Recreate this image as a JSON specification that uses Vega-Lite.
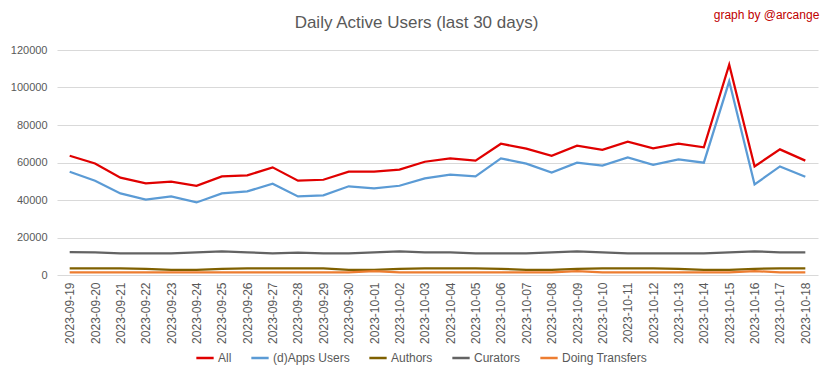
{
  "$schema": "https://vega.github.io/schema/vega-lite/v6.json",
  "width": 761,
  "height": 225,
  "autosize": {"type": "none"},
  "padding": {"left": 57, "top": 50, "right": 15, "bottom": 104},
  "background": "white",
  "title": {
    "text": "Daily Active Users (last 30 days)",
    "anchor": "middle",
    "frame": "group",
    "dx": -21,
    "dy": 39,
    "offset": 16,
    "fontSize": 17,
    "font": "Liberation Sans",
    "fontWeight": "normal",
    "color": "#595959"
  },
  "config": {
    "view": {"stroke": null},
    "font": "Liberation Sans"
  },
  "datasets": {
    "credit": [{"date": "2023-10-18", "value": 138500, "label": "graph by @arcange"}]
  },
  "data": {"values": [
    {"date":"2023-09-19","series":"All","value":63600},
    {"date":"2023-09-20","series":"All","value":59500},
    {"date":"2023-09-21","series":"All","value":51900},
    {"date":"2023-09-22","series":"All","value":48900},
    {"date":"2023-09-23","series":"All","value":49800},
    {"date":"2023-09-24","series":"All","value":47600},
    {"date":"2023-09-25","series":"All","value":52600},
    {"date":"2023-09-26","series":"All","value":53100},
    {"date":"2023-09-27","series":"All","value":57400},
    {"date":"2023-09-28","series":"All","value":50300},
    {"date":"2023-09-29","series":"All","value":50800},
    {"date":"2023-09-30","series":"All","value":55100},
    {"date":"2023-10-01","series":"All","value":55100},
    {"date":"2023-10-02","series":"All","value":56200},
    {"date":"2023-10-03","series":"All","value":60400},
    {"date":"2023-10-04","series":"All","value":62200},
    {"date":"2023-10-05","series":"All","value":61000},
    {"date":"2023-10-06","series":"All","value":70000},
    {"date":"2023-10-07","series":"All","value":67400},
    {"date":"2023-10-08","series":"All","value":63600},
    {"date":"2023-10-09","series":"All","value":69000},
    {"date":"2023-10-10","series":"All","value":66800},
    {"date":"2023-10-11","series":"All","value":71100},
    {"date":"2023-10-12","series":"All","value":67500},
    {"date":"2023-10-13","series":"All","value":70000},
    {"date":"2023-10-14","series":"All","value":68100},
    {"date":"2023-10-15","series":"All","value":112200},
    {"date":"2023-10-16","series":"All","value":57900},
    {"date":"2023-10-17","series":"All","value":67000},
    {"date":"2023-10-18","series":"All","value":61000},
    {"date":"2023-09-19","series":"(d)Apps Users","value":55100},
    {"date":"2023-09-20","series":"(d)Apps Users","value":50300},
    {"date":"2023-09-21","series":"(d)Apps Users","value":43500},
    {"date":"2023-09-22","series":"(d)Apps Users","value":40200},
    {"date":"2023-09-23","series":"(d)Apps Users","value":41900},
    {"date":"2023-09-24","series":"(d)Apps Users","value":38700},
    {"date":"2023-09-25","series":"(d)Apps Users","value":43500},
    {"date":"2023-09-26","series":"(d)Apps Users","value":44600},
    {"date":"2023-09-27","series":"(d)Apps Users","value":48700},
    {"date":"2023-09-28","series":"(d)Apps Users","value":41900},
    {"date":"2023-09-29","series":"(d)Apps Users","value":42500},
    {"date":"2023-09-30","series":"(d)Apps Users","value":47300},
    {"date":"2023-10-01","series":"(d)Apps Users","value":46200},
    {"date":"2023-10-02","series":"(d)Apps Users","value":47600},
    {"date":"2023-10-03","series":"(d)Apps Users","value":51500},
    {"date":"2023-10-04","series":"(d)Apps Users","value":53500},
    {"date":"2023-10-05","series":"(d)Apps Users","value":52600},
    {"date":"2023-10-06","series":"(d)Apps Users","value":62200},
    {"date":"2023-10-07","series":"(d)Apps Users","value":59400},
    {"date":"2023-10-08","series":"(d)Apps Users","value":54700},
    {"date":"2023-10-09","series":"(d)Apps Users","value":59900},
    {"date":"2023-10-10","series":"(d)Apps Users","value":58300},
    {"date":"2023-10-11","series":"(d)Apps Users","value":62700},
    {"date":"2023-10-12","series":"(d)Apps Users","value":58800},
    {"date":"2023-10-13","series":"(d)Apps Users","value":61700},
    {"date":"2023-10-14","series":"(d)Apps Users","value":59900},
    {"date":"2023-10-15","series":"(d)Apps Users","value":103300},
    {"date":"2023-10-16","series":"(d)Apps Users","value":48300},
    {"date":"2023-10-17","series":"(d)Apps Users","value":57900},
    {"date":"2023-10-18","series":"(d)Apps Users","value":52400},
    {"date":"2023-09-19","series":"Authors","value":3500},
    {"date":"2023-09-20","series":"Authors","value":3500},
    {"date":"2023-09-21","series":"Authors","value":3500},
    {"date":"2023-09-22","series":"Authors","value":3300},
    {"date":"2023-09-23","series":"Authors","value":2800},
    {"date":"2023-09-24","series":"Authors","value":2800},
    {"date":"2023-09-25","series":"Authors","value":3300},
    {"date":"2023-09-26","series":"Authors","value":3500},
    {"date":"2023-09-27","series":"Authors","value":3500},
    {"date":"2023-09-28","series":"Authors","value":3500},
    {"date":"2023-09-29","series":"Authors","value":3500},
    {"date":"2023-09-30","series":"Authors","value":2800},
    {"date":"2023-10-01","series":"Authors","value":2800},
    {"date":"2023-10-02","series":"Authors","value":3300},
    {"date":"2023-10-03","series":"Authors","value":3500},
    {"date":"2023-10-04","series":"Authors","value":3500},
    {"date":"2023-10-05","series":"Authors","value":3500},
    {"date":"2023-10-06","series":"Authors","value":3300},
    {"date":"2023-10-07","series":"Authors","value":2800},
    {"date":"2023-10-08","series":"Authors","value":2800},
    {"date":"2023-10-09","series":"Authors","value":3300},
    {"date":"2023-10-10","series":"Authors","value":3500},
    {"date":"2023-10-11","series":"Authors","value":3500},
    {"date":"2023-10-12","series":"Authors","value":3500},
    {"date":"2023-10-13","series":"Authors","value":3300},
    {"date":"2023-10-14","series":"Authors","value":2800},
    {"date":"2023-10-15","series":"Authors","value":2800},
    {"date":"2023-10-16","series":"Authors","value":3300},
    {"date":"2023-10-17","series":"Authors","value":3500},
    {"date":"2023-10-18","series":"Authors","value":3500},
    {"date":"2023-09-19","series":"Curators","value":12200},
    {"date":"2023-09-20","series":"Curators","value":12100},
    {"date":"2023-09-21","series":"Curators","value":11600},
    {"date":"2023-09-22","series":"Curators","value":11600},
    {"date":"2023-09-23","series":"Curators","value":11600},
    {"date":"2023-09-24","series":"Curators","value":12100},
    {"date":"2023-09-25","series":"Curators","value":12600},
    {"date":"2023-09-26","series":"Curators","value":12100},
    {"date":"2023-09-27","series":"Curators","value":11600},
    {"date":"2023-09-28","series":"Curators","value":11900},
    {"date":"2023-09-29","series":"Curators","value":11600},
    {"date":"2023-09-30","series":"Curators","value":11600},
    {"date":"2023-10-01","series":"Curators","value":12100},
    {"date":"2023-10-02","series":"Curators","value":12600},
    {"date":"2023-10-03","series":"Curators","value":12100},
    {"date":"2023-10-04","series":"Curators","value":12100},
    {"date":"2023-10-05","series":"Curators","value":11600},
    {"date":"2023-10-06","series":"Curators","value":11600},
    {"date":"2023-10-07","series":"Curators","value":11600},
    {"date":"2023-10-08","series":"Curators","value":12100},
    {"date":"2023-10-09","series":"Curators","value":12600},
    {"date":"2023-10-10","series":"Curators","value":12100},
    {"date":"2023-10-11","series":"Curators","value":11600},
    {"date":"2023-10-12","series":"Curators","value":11600},
    {"date":"2023-10-13","series":"Curators","value":11600},
    {"date":"2023-10-14","series":"Curators","value":11600},
    {"date":"2023-10-15","series":"Curators","value":12100},
    {"date":"2023-10-16","series":"Curators","value":12600},
    {"date":"2023-10-17","series":"Curators","value":12100},
    {"date":"2023-10-18","series":"Curators","value":12100},
    {"date":"2023-09-19","series":"Doing Transfers","value":1400},
    {"date":"2023-09-20","series":"Doing Transfers","value":1400},
    {"date":"2023-09-21","series":"Doing Transfers","value":1400},
    {"date":"2023-09-22","series":"Doing Transfers","value":1400},
    {"date":"2023-09-23","series":"Doing Transfers","value":1400},
    {"date":"2023-09-24","series":"Doing Transfers","value":1400},
    {"date":"2023-09-25","series":"Doing Transfers","value":1400},
    {"date":"2023-09-26","series":"Doing Transfers","value":1400},
    {"date":"2023-09-27","series":"Doing Transfers","value":1400},
    {"date":"2023-09-28","series":"Doing Transfers","value":1400},
    {"date":"2023-09-29","series":"Doing Transfers","value":1400},
    {"date":"2023-09-30","series":"Doing Transfers","value":1400},
    {"date":"2023-10-01","series":"Doing Transfers","value":2000},
    {"date":"2023-10-02","series":"Doing Transfers","value":1400},
    {"date":"2023-10-03","series":"Doing Transfers","value":1400},
    {"date":"2023-10-04","series":"Doing Transfers","value":1400},
    {"date":"2023-10-05","series":"Doing Transfers","value":1400},
    {"date":"2023-10-06","series":"Doing Transfers","value":1400},
    {"date":"2023-10-07","series":"Doing Transfers","value":1400},
    {"date":"2023-10-08","series":"Doing Transfers","value":1400},
    {"date":"2023-10-09","series":"Doing Transfers","value":2000},
    {"date":"2023-10-10","series":"Doing Transfers","value":1400},
    {"date":"2023-10-11","series":"Doing Transfers","value":1400},
    {"date":"2023-10-12","series":"Doing Transfers","value":1400},
    {"date":"2023-10-13","series":"Doing Transfers","value":1400},
    {"date":"2023-10-14","series":"Doing Transfers","value":1400},
    {"date":"2023-10-15","series":"Doing Transfers","value":1400},
    {"date":"2023-10-16","series":"Doing Transfers","value":2100},
    {"date":"2023-10-17","series":"Doing Transfers","value":1400},
    {"date":"2023-10-18","series":"Doing Transfers","value":1400}
  ]},
  "layer": [
    {
      "mark": {"type": "line", "strokeWidth": 2.25, "interpolate": "linear"},
      "encoding": {
        "x": {
          "field": "date", "type": "ordinal", "title": null,
          "axis": {
            "labelAngle": -90, "labelAlign": "right", "labelBaseline": "middle",
            "labelFontSize": 12, "labelColor": "#595959", "labelPadding": 7,
            "ticks": false, "domain": false, "grid": false
          }
        },
        "y": {
          "field": "value", "type": "quantitative", "title": null,
          "scale": {"domain": [0, 120000], "nice": false},
          "axis": {
            "values": [0, 20000, 40000, 60000, 80000, 100000, 120000],
            "format": "d", "labelOverlap": false,
            "labelFontSize": 11, "labelColor": "#595959", "labelPadding": 10,
            "ticks": false, "domain": false,
            "gridColor": "#D9D9D9", "gridWidth": 1
          }
        },
        "color": {
          "field": "series", "type": "nominal",
          "scale": {
            "domain": ["All", "(d)Apps Users", "Authors", "Curators", "Doing Transfers"],
            "range": ["#E00000", "#5B9BD5", "#7F6000", "#636363", "#ED7D31"]
          },
          "legend": {
            "title": null, "orient": "none", "direction": "horizontal",
            "legendX": 138, "legendY": 298,
            "symbolType": "stroke", "symbolStrokeWidth": 2.5, "symbolSize": 300,
            "labelFontSize": 12, "labelColor": "#595959", "columnPadding": 14,
            "labelOffset": 3
          }
        }
      }
    },
    {
      "data": {"name": "credit"},
      "mark": {"type": "text", "align": "right", "baseline": "middle", "dx": 14, "fontSize": 12, "color": "#C00000", "clip": false},
      "encoding": {
        "x": {
          "field": "date", "type": "ordinal", "title": null,
          "axis": {
            "labelAngle": -90, "labelAlign": "right", "labelBaseline": "middle",
            "labelFontSize": 12, "labelColor": "#595959", "labelPadding": 7,
            "ticks": false, "domain": false, "grid": false
          }
        },
        "y": {
          "field": "value", "type": "quantitative", "title": null,
          "scale": {"domain": [0, 120000], "nice": false},
          "axis": {
            "values": [0, 20000, 40000, 60000, 80000, 100000, 120000],
            "format": "d", "labelOverlap": false,
            "labelFontSize": 11, "labelColor": "#595959", "labelPadding": 10,
            "ticks": false, "domain": false,
            "gridColor": "#D9D9D9", "gridWidth": 1
          }
        },
        "text": {"field": "label"}
      }
    }
  ]
}
